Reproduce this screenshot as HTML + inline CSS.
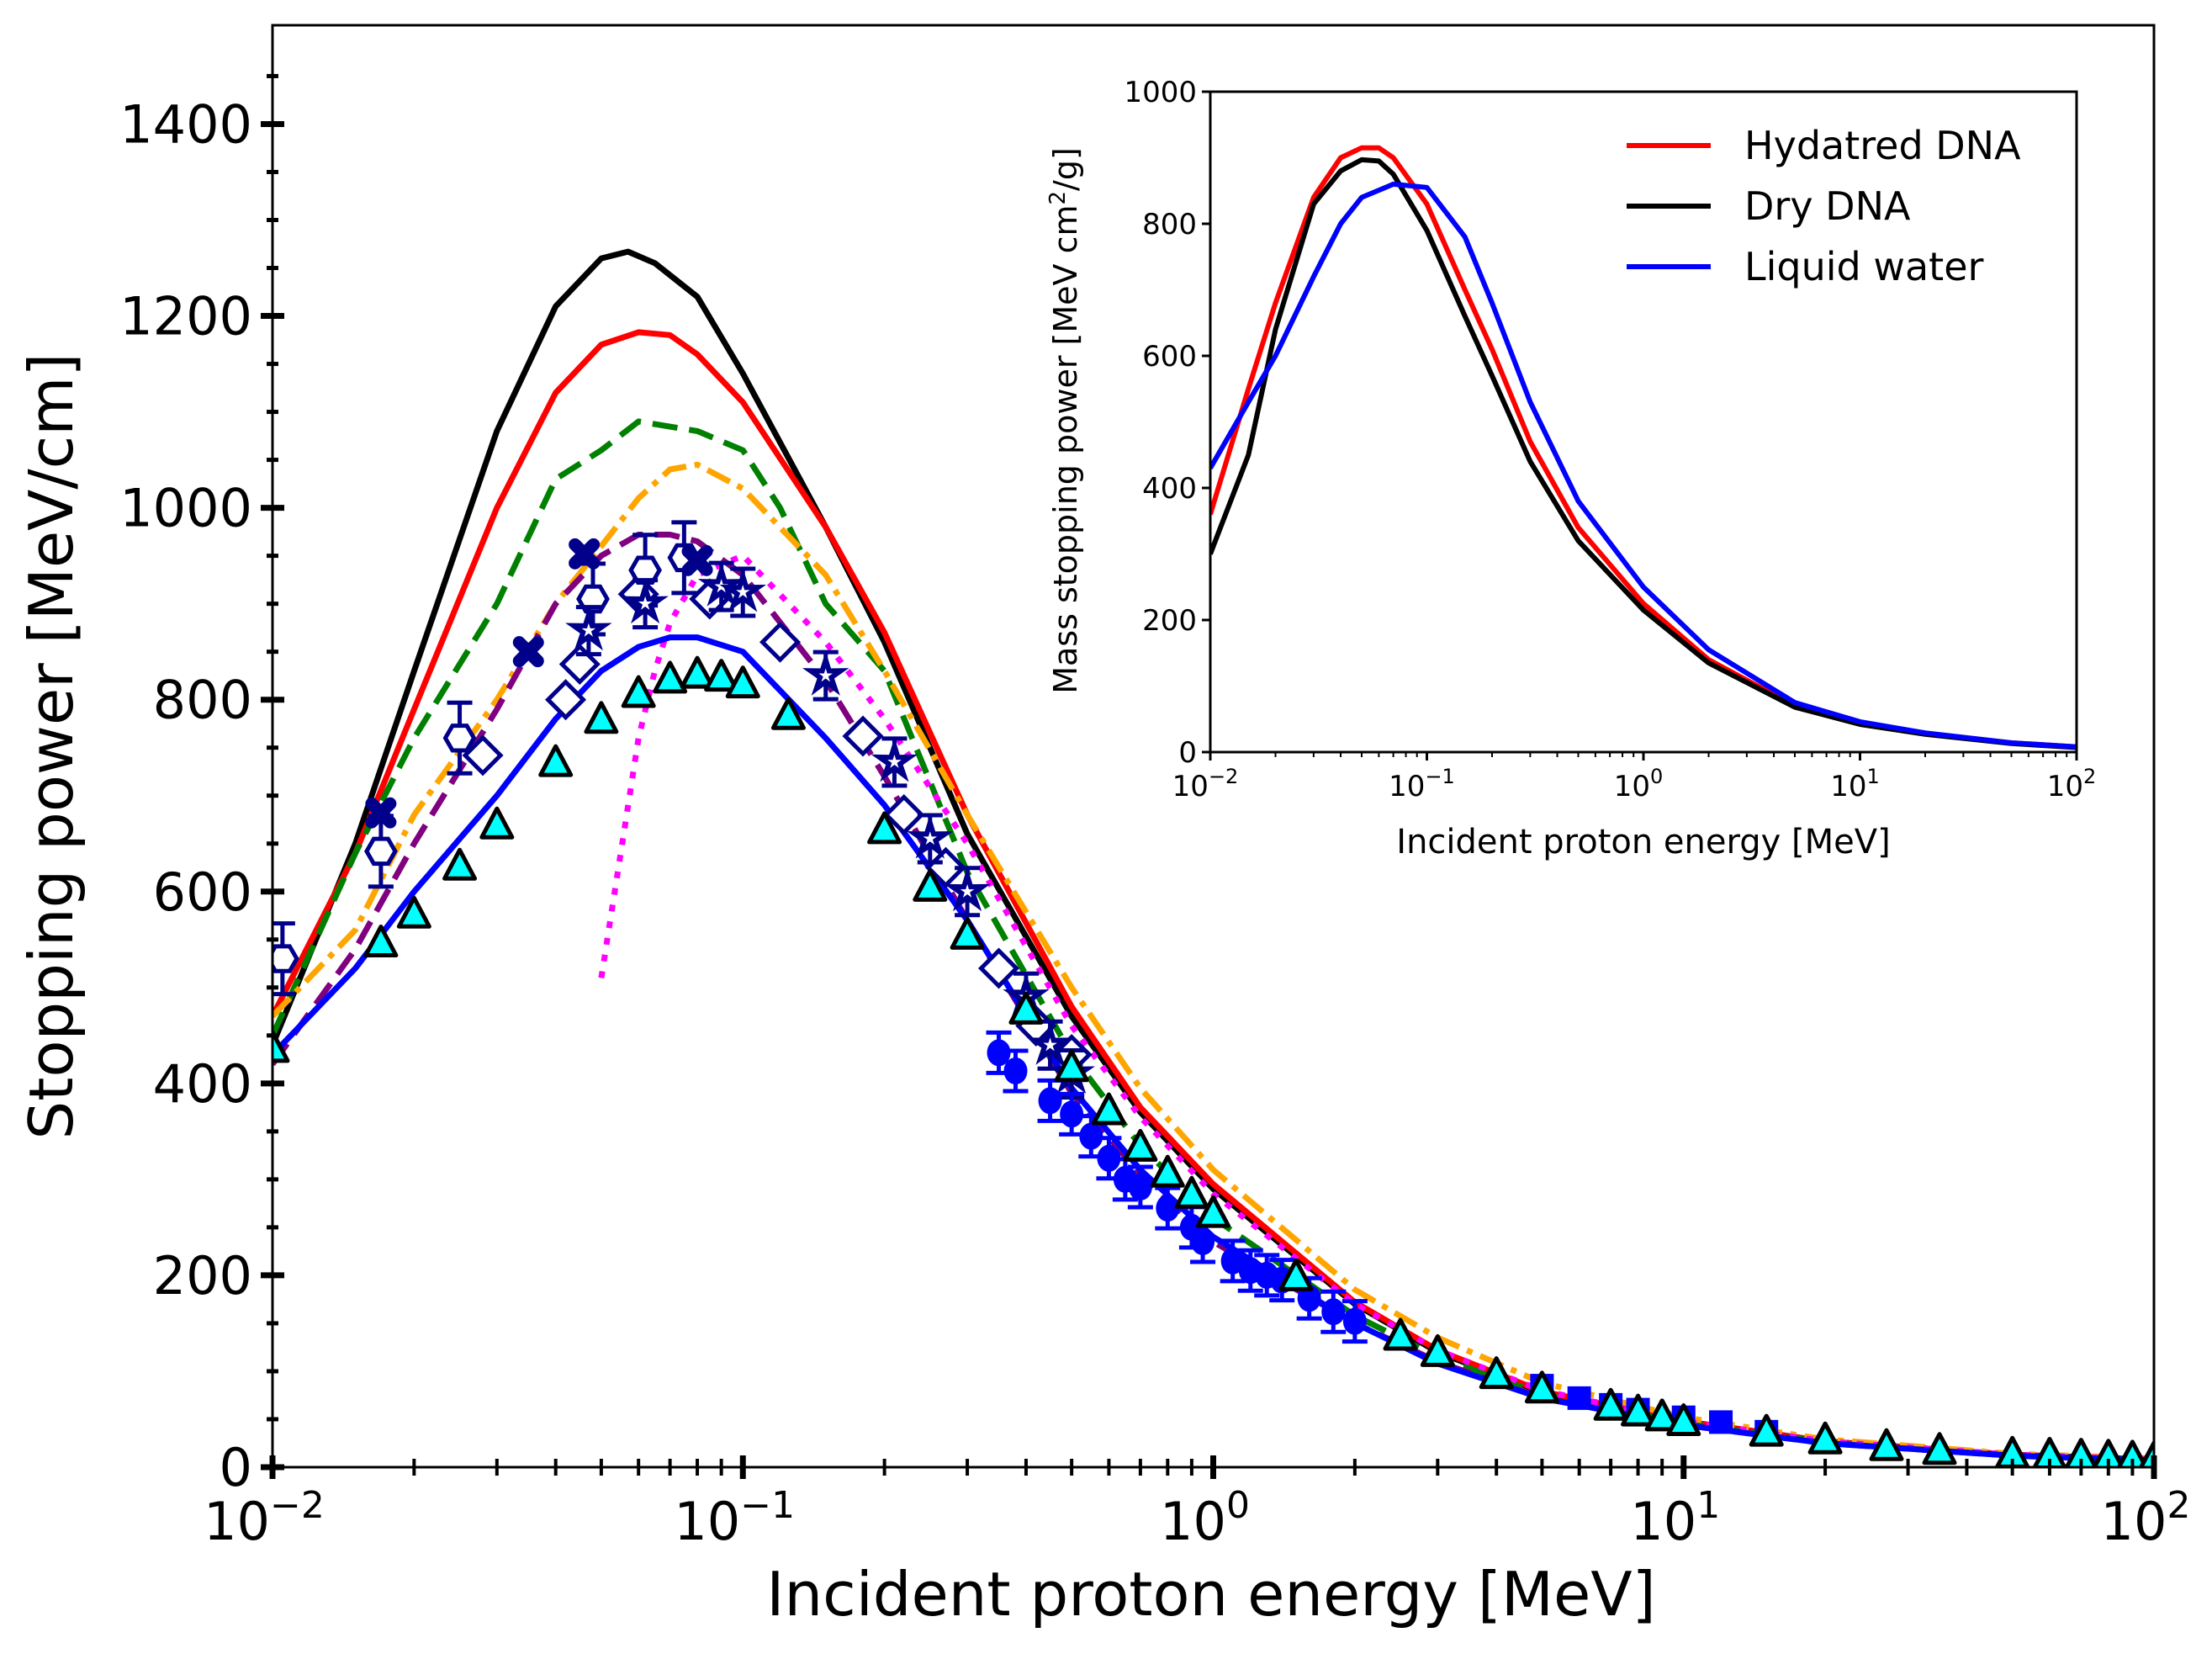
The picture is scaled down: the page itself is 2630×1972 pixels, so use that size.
<!DOCTYPE html>
<html><head><meta charset="utf-8"><style>
html,body{margin:0;padding:0;background:#fff;}
svg{display:block;font-family:"DejaVu Sans","Liberation Sans",sans-serif;}
</style></head><body>
<svg id="chart" width="2630" height="1972" viewBox="0 0 2630 1972" xmlns="http://www.w3.org/2000/svg">
<defs><clipPath id="mainclip"><rect x="324" y="30" width="2237" height="1714"/></clipPath>
<clipPath id="insclip"><rect x="1439" y="109" width="1030" height="785"/></clipPath></defs>
<g id="main"></g>
<g id="inset"></g>
</svg>
<script>
const NS="http://www.w3.org/2000/svg";
// ---- main data ----
const mainXTicks=[-2,-1,0,1,2];
const mainYTicks=[0,200,400,600,800,1000,1200,1400];
const blackE=[0.01,0.015,0.02,0.03,0.04,0.05,0.057,0.065,0.08,0.1,0.15,0.2,0.3,0.5,0.7,1,2,3,5,10,20,50,100];
const blackV=[440,650,830,1080,1210,1260,1267,1255,1220,1140,980,860,660,470,370,290,170,120,78,48,27,13,8];
const redE=[0.01,0.015,0.02,0.03,0.04,0.05,0.06,0.07,0.08,0.1,0.15,0.2,0.3,0.5,0.7,1,2,3,5,10,20,50,100];
const redV=[470,640,790,1000,1120,1170,1183,1180,1160,1110,980,870,680,480,375,295,172,122,79,48,27,13,7];
const greenE=[0.01,0.015,0.02,0.03,0.04,0.05,0.06,0.08,0.1,0.12,0.15,0.2,0.3,0.5,0.7,1,2,3,5,10,20,50,100];
const greenV=[450,640,760,900,1030,1060,1090,1080,1060,1000,900,830,620,430,335,260,158,115,76,46,26,12,8];
const orangeE=[0.01,0.015,0.02,0.03,0.04,0.05,0.06,0.07,0.08,0.1,0.15,0.2,0.3,0.5,0.7,1,2,3,5,10,20,50,100];
const orangeV=[470,560,680,800,900,960,1010,1040,1045,1020,930,830,680,500,395,310,185,135,88,52,29,14,9];
const purpleE=[0.01,0.015,0.02,0.03,0.04,0.05,0.06,0.07,0.08,0.1,0.15,0.2,0.3,0.5,0.7,1,2,3,5,10,20,50,100];
const purpleV=[420,540,650,790,900,950,972,972,965,930,820,720,570,390,305,235,150,110,72,44,25,12,7];
const magentaE=[0.05,0.055,0.06,0.065,0.07,0.08,0.1,0.15,0.2,0.3,0.5,0.7,1,2,3,5,10,20,50,100];
const magentaV=[510,640,760,830,880,930,950,860,780,650,460,365,285,170,122,80,48,27,13,8];
const blueE=[0.01,0.015,0.02,0.03,0.04,0.05,0.06,0.07,0.08,0.1,0.15,0.2,0.3,0.5,0.7,1,2,3,5,10,20,50,100];
const blueV=[430,520,600,700,780,830,855,865,865,850,760,690,570,395,310,240,150,108,72,44,25,12,7];
const triE=[0.01,0.017,0.02,0.025,0.03,0.04,0.05,0.06,0.07,0.08,0.09,0.1,0.125,0.2,0.25,0.3,0.4,0.5,0.6,0.7,0.8,0.9,1.0,1.5,2.5,3,4,5,7,8,9,10,15,20,27,35,50,60,70,80,90,100];
const triV=[435,545,575,625,668,733,778,805,820,825,822,815,782,663,603,553,475,415,370,332,305,283,263,197,135,118,95,80,62,56,51,46,35,27,20,16,12,11,10,9,8,7];
const circE=[0.35,0.38,0.45,0.5,0.55,0.6,0.65,0.7,0.8,0.9,0.95,1.1,1.2,1.3,1.4,1.6,1.8,2.0];
const circV=[432,413,382,368,345,322,300,292,270,250,235,215,205,200,195,176,162,152];
const sqE=[5,6,7,8,10,12,15];
const sqV=[85,72,65,60,52,47,37];
const hexE=[0.0105,0.017,0.025,0.048,0.062,0.075];
const hexV=[530,642,760,905,935,948];
const xE=[0.017,0.035,0.046,0.08];
const xV=[682,850,952,945];
const diaE=[0.028,0.042,0.045,0.06,0.085,0.12,0.18,0.22,0.27,0.35,0.42,0.5];
const diaV=[742,800,837,910,905,860,762,680,625,520,460,430];
const starE=[0.047,0.062,0.09,0.1,0.15,0.21,0.25,0.3,0.4,0.45,0.5];
const starV=[872,900,918,912,825,735,655,600,490,440,410];
// ---- inset data ----
const inYTicks=[0,200,400,600,800,1000];
const inRedE=[0.01,0.015,0.02,0.03,0.04,0.05,0.06,0.07,0.1,0.15,0.2,0.3,0.5,1,2,5,10,20,50,100];
const inRedV=[360,550,680,840,900,915,915,900,830,700,610,470,340,225,140,70,45,28,14,8];
const inBlackE=[0.01,0.015,0.02,0.03,0.04,0.05,0.06,0.07,0.1,0.15,0.2,0.3,0.5,1,2,5,10,20,50,100];
const inBlackV=[300,450,640,830,880,897,895,875,790,660,570,440,320,215,135,68,42,27,13,7];
const inBlueE=[0.01,0.015,0.02,0.03,0.04,0.05,0.07,0.1,0.15,0.2,0.3,0.5,1,2,5,10,20,50,100];
const inBlueV=[430,530,600,720,800,840,860,855,780,680,530,380,250,155,75,46,29,14,8];

const M={l:324,r:2561,t:30,b:1744,ymax:1503};
const I={l:1439,r:2469,t:109,b:894,ymax:1000};
const mx=e=>M.l+(Math.log10(e)+2)/4*(M.r-M.l);
const my=v=>M.b-v/M.ymax*(M.b-M.t);
const ix=e=>I.l+(Math.log10(e)+2)/4*(I.r-I.l);
const iy=v=>I.b-v/I.ymax*(I.b-I.t);
function el(p,tag,at){const e=document.createElementNS(NS,tag);for(const k in at)e.setAttribute(k,at[k]);p.appendChild(e);return e;}
const main=document.getElementById('main'), inset=document.getElementById('inset');
const mclip=el(main,'g',{'clip-path':'url(#mainclip)'});


function line(g,E,V,fx,fy,color,w,dash,name){
  const d=E.map((e,i)=>(i?'L':'M')+fx(e).toFixed(1)+' '+fy(V[i]).toFixed(1)).join(' ');
  const p=el(g,'path',{d:d,fill:'none',stroke:color,'stroke-width':w,'stroke-dasharray':dash||'none','stroke-linejoin':'round'});
  
  
}
line(mclip,blackE,blackV,mx,my,'#000',7,'','line-dry-dna');
line(mclip,redE,redV,mx,my,'#ff0000',7,'','line-hydrated-dna');
line(mclip,greenE,greenV,mx,my,'#008000',7,'30 14','line-green-dashed');
line(mclip,orangeE,orangeV,mx,my,'#ffa500',7,'30 10 7 10','line-orange-dashdot');
line(mclip,purpleE,purpleV,mx,my,'#800080',7,'30 14','line-purple-dashed');
line(mclip,magentaE,magentaV,mx,my,'#ff00ff',7,'8 12','line-magenta-dotted');
line(mclip,blueE,blueV,mx,my,'#0000ff',7,'','line-liquid-water');
function errbar(g,x,y,h,color){
  el(g,'path',{d:`M${x} ${y-h}V${y+h}M${x-15} ${y-h}H${x+15}M${x-15} ${y+h}H${x+15}`,stroke:color,'stroke-width':5,fill:'none'});
}
function markers(E,V,kind,name){
  const g=el(mclip,'g',{});
  
  
  E.forEach((e,i)=>{
    const x=mx(e),y=my(V[i]);
    let m;
    if(kind==='tri'){m=el(g,'path',{d:`M${x} ${y-21}L${x+18} ${y+13}L${x-18} ${y+13}Z`,fill:'#00ffff',stroke:'#000','stroke-width':5,'stroke-linejoin':'round'});}
    else if(kind==='circ'){errbar(g,x,y,24,'#0000ff');m=el(g,'ellipse',{cx:x,cy:y,rx:14,ry:16,fill:'#0000ff'});}
    else if(kind==='sq'){m=el(g,'rect',{x:x-14,y:y-14,width:28,height:28,fill:'#0000ff'});}
    else if(kind==='hex'){errbar(g,x,y,42,'#00008b');let pts=[];for(let k=0;k<6;k++){const a=Math.PI/3*k;pts.push((x+17*Math.cos(a)).toFixed(1)+','+(y+17*Math.sin(a)).toFixed(1));}
      m=el(g,'polygon',{points:pts.join(' '),fill:'#fff',stroke:'#00008b','stroke-width':5});}
    else if(kind==='x'){m=el(g,'path',{d:`M${x-11} ${y-11}L${x+11} ${y+11}M${x+11} ${y-11}L${x-11} ${y+11}`,stroke:'#00008b','stroke-width':15,'stroke-linecap':'round'});}
    else if(kind==='dia'){m=el(g,'path',{d:`M${x} ${y-21}L${x+21} ${y}L${x} ${y+21}L${x-21} ${y}Z`,fill:'#fff',stroke:'#00008b','stroke-width':5});}
    else if(kind==='star'){errbar(g,x,y,28,'#00008b');let pts=[];for(let k=0;k<10;k++){const a=-Math.PI/2+Math.PI/5*k,r=k%2?7:19;pts.push((x+r*Math.cos(a)).toFixed(1)+','+(y+r*Math.sin(a)).toFixed(1));}
      m=el(g,'polygon',{points:pts.join(' '),fill:'#fff',stroke:'#00008b','stroke-width':6});}
    
    
  });
}
markers(diaE,diaV,'dia','diamond-data');
markers(hexE,hexV,'hex','hexagon-data');
markers(xE,xV,'x','x-data');
markers(starE,starV,'star','star-data');
markers(circE,circV,'circ','circle-data');
markers(sqE,sqV,'sq','square-data');
markers(triE,triV,'tri','triangle-data');
// main axes frame
const fr=el(main,'rect',{x:M.l,y:M.t,width:M.r-M.l,height:M.b-M.t,fill:'none',stroke:'#000','stroke-width':3});


mainYTicks.forEach(v=>{const y=my(v);
  el(main,'line',{x1:M.l-14,x2:M.l+14,y1:y,y2:y,stroke:'#000','stroke-width':7});
  const t=el(main,'text',{x:M.l-24,y:y+22,'font-size':62,'text-anchor':'end'});t.textContent=v;
  
  
});
for(let v=50;v<1500;v+=50){if(v%200===0)continue;const y=my(v);el(main,'line',{x1:M.l-7,x2:M.l+7,y1:y,y2:y,stroke:'#000','stroke-width':5});}
mainXTicks.forEach(p=>{const x=mx(Math.pow(10,p));
  el(main,'line',{x1:x,x2:x,y1:M.b-14,y2:M.b+14,stroke:'#000','stroke-width':7});
  const t=el(main,'text',{x:x-10,y:M.b+86,'font-size':62,'text-anchor':'middle'});
  
  
  t.textContent='10';const s=el(t,'tspan',{dy:-26,'font-size':44});s.textContent=(p<0?'\u2212':'')+Math.abs(p);
  if(p<2) for(let k=2;k<10;k++){const xx=mx(k*Math.pow(10,p));el(main,'line',{x1:xx,x2:xx,y1:M.b-10,y2:M.b+10,stroke:'#000','stroke-width':4});}
});
let t=el(main,'text',{x:1440,y:1920,'font-size':72,'text-anchor':'middle'});t.textContent='Incident proton energy [MeV]';


t=el(main,'text',{x:0,y:0,'font-size':72,'text-anchor':'middle',transform:'translate(86 887) rotate(-90)'});t.textContent='Stopping power [MeV/cm]';


// ---- inset ----
el(inset,'rect',{x:I.l-120,y:I.t-10,width:I.r-I.l+140,height:I.b-I.t+160,fill:'#fff'});
const iclip=el(inset,'g',{'clip-path':'url(#insclip)'});
line(iclip,inRedE,inRedV,ix,iy,'#ff0000',6,'','inset-line-hydrated-dna');
line(iclip,inBlackE,inBlackV,ix,iy,'#000',6,'','inset-line-dry-dna');
line(iclip,inBlueE,inBlueV,ix,iy,'#0000ff',6,'','inset-line-liquid-water');
const ifr=el(inset,'rect',{x:I.l,y:I.t,width:I.r-I.l,height:I.b-I.t,fill:'none',stroke:'#000','stroke-width':3});


inYTicks.forEach(v=>{const y=iy(v);
  el(inset,'line',{x1:I.l-10,x2:I.l,y1:y,y2:y,stroke:'#000','stroke-width':3});
  const tt=el(inset,'text',{x:I.l-16,y:y+12,'font-size':34,'text-anchor':'end'});tt.textContent=v;
  
  
});
mainXTicks.forEach(p=>{const x=ix(Math.pow(10,p));
  el(inset,'line',{x1:x,x2:x,y1:I.b,y2:I.b+10,stroke:'#000','stroke-width':3});
  const tt=el(inset,'text',{x:x-6,y:I.b+52,'font-size':34,'text-anchor':'middle'});
  
  
  tt.textContent='10';const s=el(tt,'tspan',{dy:-15,'font-size':24});s.textContent=(p<0?'\u2212':'')+Math.abs(p);
  if(p<2) for(let k=2;k<10;k++){const xx=ix(k*Math.pow(10,p));el(inset,'line',{x1:xx,x2:xx,y1:I.b,y2:I.b+6,stroke:'#000','stroke-width':2});}
});
t=el(inset,'text',{x:1954,y:1014,'font-size':40,'text-anchor':'middle'});t.textContent='Incident proton energy [MeV]';


t=el(inset,'text',{x:0,y:0,'font-size':38,'text-anchor':'middle',transform:'translate(1280 500) rotate(-90)'});


t.textContent='Mass stopping power [MeV cm';let s=el(t,'tspan',{dy:-14,'font-size':26});s.textContent='2';s=el(t,'tspan',{dy:14});s.textContent='/g]';
const legNames=['Hydatred DNA','Dry DNA','Liquid water'], legColors=['#ff0000','#000','#0000ff'];
legNames.forEach((n,i)=>{const y=173+i*72;
  const g=el(inset,'g',{});
  
  
  el(g,'line',{x1:1934,x2:2034,y1:y,y2:y,stroke:legColors[i],'stroke-width':6});
  const tt=el(g,'text',{x:2074,y:y+16,'font-size':46});tt.textContent=n;
});
</script>
</body></html>
